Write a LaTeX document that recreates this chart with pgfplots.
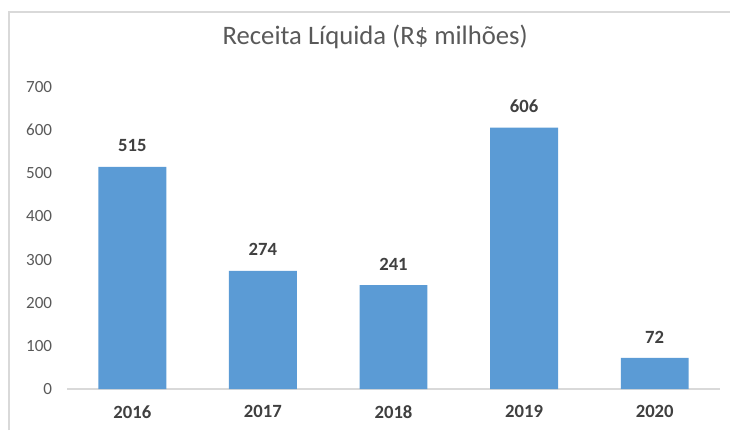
\documentclass[border=0pt]{standalone}
\usepackage{pgfplots}
\pgfplotsset{compat=1.18}
\usepackage{fontspec}
\setmainfont{Carlito}

\definecolor{barblue}{HTML}{5B9BD5}
\definecolor{ticktext}{HTML}{595959}
\definecolor{labeltext}{HTML}{404040}
\definecolor{framegray}{HTML}{D9D9D9}

\begin{document}
\begin{tikzpicture}
\useasboundingbox (0,0) rectangle (547.5pt,322.5pt);
% frame of the chart area (top and left edges visible)
\draw[framegray, line width=1pt] (6.75pt,0) -- (6.75pt,313.5pt) -- (547.5pt,313.5pt);
\begin{axis}[
    at={(50.25pt,30.75pt)}, anchor=south west,
    scale only axis,
    width=489.75pt, height=226.5pt,
    xmin=-0.5, xmax=4.5,
    ymin=0, ymax=700,
    ytick={0,100,...,700},
    xtick=data,
    xticklabels={2016,2017,2018,2019,2020},
    axis y line*=left,
    axis x line*=bottom,
    y axis line style={draw=none},
    x axis line style={framegray, line width=0.8pt, -},
    major tick length=0pt,
    ybar, bar width=0.52,
    nodes near coords,
    nodes near coords style={font=\fontsize{14}{16}\selectfont\bfseries, text=labeltext, inner sep=0pt, yshift=11pt, anchor=south},
    xticklabel style={font=\fontsize{14}{16}\selectfont\bfseries, text=labeltext, inner sep=0pt, yshift=-12pt},
    yticklabel style={font=\fontsize{12.8}{14}\selectfont, text=ticktext, inner sep=0pt, xshift=-11pt},
    /pgf/number format/assume math mode=true,
    title={Receita Líquida (R\$ milhões)},
    title style={font=\fontsize{20}{24}\selectfont, text=ticktext, at={(axis description cs:0.472,1.139)}, anchor=center, inner sep=0pt},
    clip=false,
]
\addplot[draw=none, fill=barblue] coordinates {(0,515) (1,274) (2,241) (3,606) (4,72)};
\end{axis}
\end{tikzpicture}
\end{document}
